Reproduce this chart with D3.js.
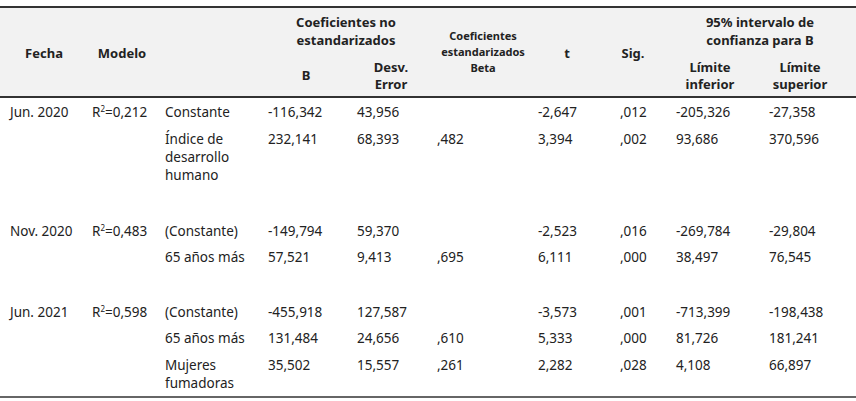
<!DOCTYPE html>
<html><head><meta charset="utf-8">
<script src="https://cdn.jsdelivr.net/npm/d3@7"></script>
<style>body{margin:0;background:#fff}text{font-family:"Noto Sans",sans-serif;fill:#222}</style>
</head><body><svg id="t" width="856" height="401"></svg>
<script>
// table values
const fechas = ["Jun. 2020", "Nov. 2020", "Jun. 2021"];
const modelos = ["0,212", "0,483", "0,598"];
const variables = [
  [["Constante"], ["Índice de", "desarrollo", "humano"]],
  [["(Constante)"], ["65 años más"]],
  [["(Constante)"], ["65 años más"], ["Mujeres", "fumadoras"]]
];
const valores = [
  [["-116,342", "43,956", "", "-2,647", ",012", "-205,326", "-27,358"],
   ["232,141", "68,393", ",482", "3,394", ",002", "93,686", "370,596"]],
  [["-149,794", "59,370", "", "-2,523", ",016", "-269,784", "-29,804"],
   ["57,521", "9,413", ",695", "6,111", ",000", "38,497", "76,545"]],
  [["-455,918", "127,587", "", "-3,573", ",001", "-713,399", "-198,438"],
   ["131,484", "24,656", ",610", "5,333", ",000", "81,726", "181,241"],
   ["35,502", "15,557", ",261", "2,282", ",028", "4,108", "66,897"]]
];
const groupTop = [117, 236, 317];
const rowOffsets = [[0, 27], [0, 26], [0, 26, 53]];

const svg = d3.select("#t");
const colX = [268, 357, 437, 538, 620, 676, 769];

svg.append("rect").attr("x", 0).attr("y", 7).attr("width", 856).attr("height", 90).attr("fill", "#f2f2f2");
[[7, 2], [97, 2], [397, 1.5]].forEach(([y, w]) =>
  svg.append("line").attr("x1", 0).attr("x2", 856).attr("y1", y).attr("y2", y)
    .attr("stroke", "#333").attr("stroke-width", w));

const head = [
  [44, 58, "Fecha", 13], [122, 58, "Modelo", 13],
  [346, 27, "Coeficientes no", 13], [346, 45, "estandarizados", 13],
  [306, 80, "B", 13], [391, 72, "Desv.", 13], [391, 89, "Error", 13],
  [483, 40, "Coeficientes", 11], [483, 56, "estandarizados", 11], [483, 72, "Beta", 11],
  [567, 58, "t", 13], [633, 58, "Sig.", 13],
  [760, 27, "95% intervalo de", 13], [760, 45, "confianza para B", 13],
  [710, 72, "Límite", 13], [710, 89, "inferior", 13],
  [800, 72, "Límite", 13], [800, 89, "superior", 13]
];
svg.selectAll("text.h").data(head).join("text").attr("class", "h")
  .attr("x", d => d[0]).attr("y", d => d[1]).attr("text-anchor", "middle")
  .attr("font-weight", "bold").attr("font-size", d => d[3]).text(d => d[2]);

const fs = 13.5;
fechas.forEach((f, g) => {
  const y0 = groupTop[g];
  svg.append("text").attr("x", 10).attr("y", y0).attr("font-size", fs).text(f);
  const m = svg.append("text").attr("x", 92).attr("y", y0).attr("font-size", fs);
  m.append("tspan").text("R");
  m.append("tspan").attr("font-size", 8).attr("dy", -5).text("2");
  m.append("tspan").attr("dy", 5).text("=" + modelos[g]);
  variables[g].forEach((lines, r) => {
    const y = y0 + rowOffsets[g][r];
    svg.append("g").selectAll("text").data(lines).join("text")
      .attr("x", 165).attr("y", (d, i) => y + i * 18).attr("font-size", fs).text(d => d);
    svg.append("g").selectAll("text").data(valores[g][r]).join("text")
      .attr("x", (d, i) => colX[i]).attr("y", y).attr("font-size", fs).text(d => d);
  });
});
</script></body></html>
